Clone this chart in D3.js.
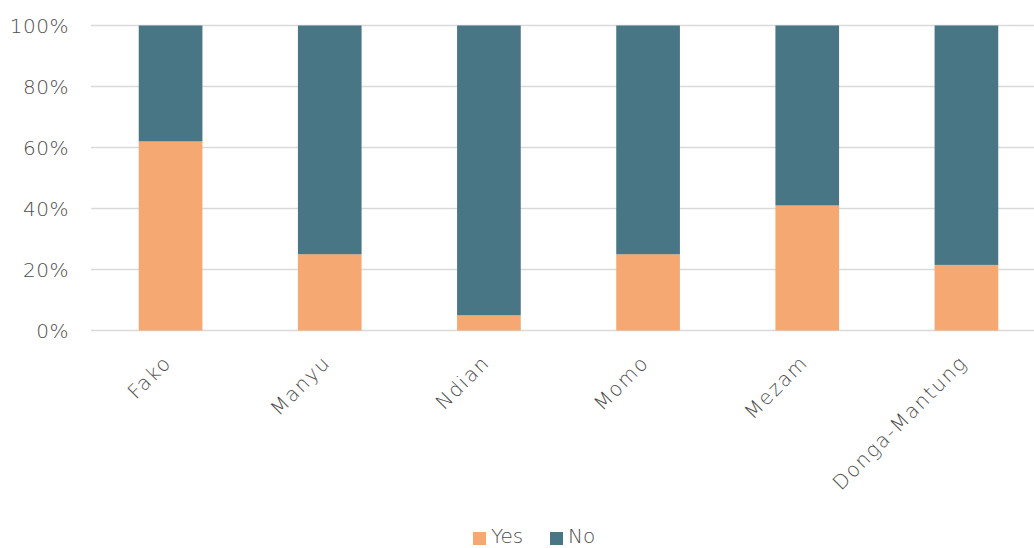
<!DOCTYPE html>
<html><head><meta charset="utf-8">
<script src="https://cdn.jsdelivr.net/npm/d3@7"></script>
<style>body{margin:0;background:#fff;} text{font-family:"DejaVu Sans",sans-serif;font-weight:200;fill:#4d4d4d;}</style>
</head><body><svg id="c" width="1034" height="548"></svg>
<script>
const categories = ["Fako","Manyu","Ndian","Momo","Mezam","Donga-Mantung"];
const yesValues = [62,25,5,25,41,21.5];
const noValues = yesValues.map(v => 100 - v);
const yTicks = [0,20,40,60,80,100];
const seriesNames = ["Yes","No"];
const colors = ["#F5A872","#487685"];

const svg = d3.select("#c");
const x = d3.scaleBand().domain(categories).range([91, 1046]).paddingInner(0.6).paddingOuter(0.3);
const y = d3.scaleLinear().domain([0,100]).range([330.5, 25.5]);

svg.append("g").selectAll("line").data(yTicks).join("line")
  .attr("x1", 91).attr("x2", 1046).attr("y1", d=>y(d)).attr("y2", d=>y(d))
  .attr("stroke", "#d9d9d9").attr("stroke-width", 1.5);

const rows = categories.map((c,i)=>({cat:c, Yes:yesValues[i], No:noValues[i]}));
const stack = d3.stack().keys(seriesNames)(rows);
svg.append("g").selectAll("g").data(stack).join("g").attr("fill",(d,i)=>colors[i])
  .selectAll("rect").data(d=>d).join("rect")
  .attr("x", d=>x(d.data.cat)).attr("width", x.bandwidth())
  .attr("y", d=>y(d[1])).attr("height", d=>y(d[0])-y(d[1]));

svg.append("g").selectAll("text").data(yTicks).join("text")
  .attr("x", 69).attr("y", d=>y(d)).attr("dy","0.36em").attr("text-anchor","end")
  .attr("font-size", 20).attr("letter-spacing", 0.5).text(d=>d+"%");

svg.append("g").selectAll("text").data(categories).join("text")
  .attr("transform", d=>`translate(${x(d)+x.bandwidth()/2-8},${354}) rotate(-45)`)
  .attr("text-anchor","end").attr("dy","0.7em").attr("font-size", 20).attr("letter-spacing", 1.6).text(d=>d);

const leg = svg.append("g");
const lx = [473, 550];
seriesNames.forEach((s,i)=>{
  leg.append("rect").attr("x", lx[i]).attr("y", 532).attr("width", 13).attr("height", 13).attr("fill", colors[i]);
  leg.append("text").attr("x", lx[i]+18).attr("y", 536).attr("dy","0.36em").attr("font-size", 20).text(s);
});
</script></body></html>
